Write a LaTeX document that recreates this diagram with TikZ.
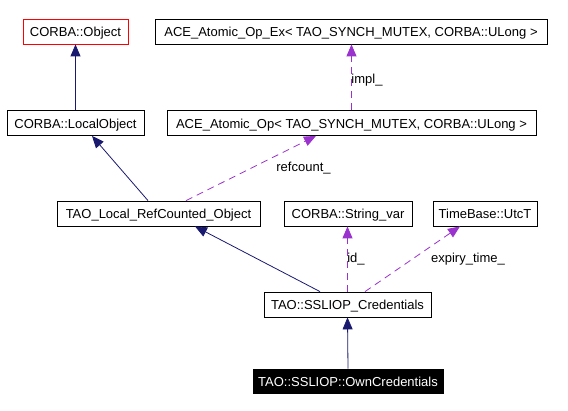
\documentclass[tikz,border=0pt]{standalone}
\usepackage{fontspec}
\setmainfont{Liberation Sans}
\usetikzlibrary{positioning}
\usetikzlibrary{arrows.meta}
\definecolor{navyedge}{HTML}{191970}
\definecolor{purpleedge}{HTML}{9A32CD}

\begin{document}
\begin{tikzpicture}[x=1pt,y=-1pt,
  klass/.style={draw, line width=0.8pt, minimum height=25pt, inner sep=0pt, text height=11pt, text depth=0pt, font=\fontsize{13}{15}\selectfont},
  inherit/.style={navyedge, line width=0.8pt, -{Triangle[length=12pt,width=10pt]}},
  usage/.style={purpleedge, line width=0.8pt, dash pattern=on 7pt off 5pt, -{Triangle[length=12pt,width=10pt]}},
  elabel/.style={font=\fontsize{13}{15}\selectfont, inner sep=1pt}]

\useasboundingbox (0,0) rectangle (568,411);

% classes
\node[klass, draw=red, minimum width=105pt] (obj) at (75.5,31.5) {CORBA::Object};
\node[klass, minimum width=392pt] (opex) at (351,31.5) {ACE\_Atomic\_Op\_Ex< TAO\_SYNCH\_MUTEX, CORBA::ULong >};
\node[klass, minimum width=137pt] (local) at (75.5,123) {CORBA::LocalObject};
\node[klass, minimum width=369pt] (op) at (351.5,123) {ACE\_Atomic\_Op< TAO\_SYNCH\_MUTEX, CORBA::ULong >};
\node[klass, minimum width=203pt] (refc) at (158.5,213.5) {TAO\_Local\_RefCounted\_Object};
\node[klass, minimum width=128pt] (strv) at (348,213.5) {CORBA::String\_var};
\node[klass, minimum width=104pt] (utct) at (485,213.5) {TimeBase::UtcT};
\node[klass, minimum width=167pt] (cred) at (347.5,304.5) {TAO::SSLIOP\_Credentials};
\node[klass, fill=black, text=white, minimum width=190pt, minimum height=24pt] (own) at (348,381) {TAO::SSLIOP::OwnCredentials};

% inheritance
\draw[inherit] (local.north) -- (obj.south);
\draw[inherit] ([xshift=-10.5pt]refc.north) -- ([xshift=16.5pt]local.south);
\draw[inherit] ([xshift=-27.5pt]cred.north) -- ([xshift=36.5pt]refc.south);
\draw[inherit] (own.north) -- (cred.south);

% members
\draw[usage] (op.north) -- (op.north |- opex.south);
\draw[usage] ([xshift=27.5pt]refc.north) -- ([xshift=-35.5pt]op.south);
\draw[usage] (cred.north) -- (cred.north |- strv.south);
\draw[usage] ([xshift=17.5pt]cred.north) -- ([xshift=-25pt]utct.south);

\node[elabel] (implLbl) at (367,80) {impl\_};
\node[elabel] (refcountLbl) at (303.5,168) {refcount\_};
\node[elabel] (idLbl) at (356,259) {id\_};
\node[elabel] (expiryLbl) at (468,259) {expiry\_time\_};

\end{tikzpicture}
\end{document}
